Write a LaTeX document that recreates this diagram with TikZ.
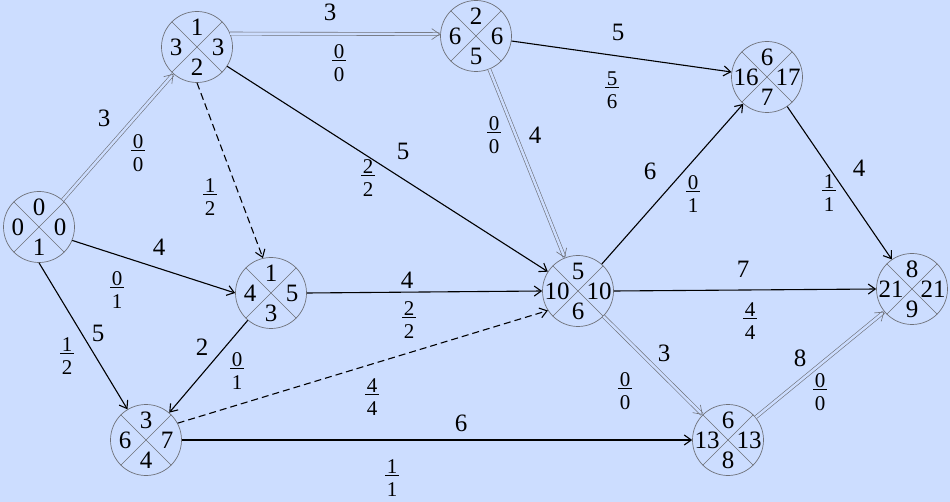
\documentclass[tikz,border=0pt]{standalone}
\usepackage{fontspec}
\setmainfont{Liberation Serif}
\newfontfamily\tms{Liberation Serif}
\usetikzlibrary{arrows.meta}
\definecolor{bg}{RGB}{204,221,255}
\definecolor{cgray}{RGB}{110,112,120}
\newcommand\fra[2]{\underline{\kern1.5pt#1\kern1.5pt}\\#2}
\newcommand\evnode[7]{%
  \node[ev] (#1) at (#2,#3) {};
  \draw[evx] (#1.45) -- (#1.225) (#1.135) -- (#1.315);
  \node[num] (#1t) at (#2,#3-20) {#4};
  \node[num] (#1l) at (#2-21,#3) {#5};
  \node[num] (#1r) at (#2+21,#3) {#6};
  \node[num] (#1b) at (#2,#3+20) {#7};
}
\begin{document}
\begin{tikzpicture}[x=1pt,y=-1pt,
  ev/.style={circle, draw=cgray, line width=0.7pt, minimum size=71pt, inner sep=0pt},
  evx/.style={draw=cgray, line width=0.6pt},
  num/.style={font=\tms\fontsize{25}{25}\selectfont, inner sep=0pt},
  wt/.style={font=\tms\fontsize{25}{25}\selectfont, inner sep=0pt},
  fr/.style={font=\tms\fontsize{21}{23}\selectfont, inner sep=0pt, align=center},
  act/.style={draw=black, line width=1.1pt, -{Straight Barb[length=7pt,width=10pt,line width=1.1pt]}},
  dum/.style={act, dash pattern=on 7pt off 4pt},
  crit/.style={draw=cgray, line width=0.6pt, double=bg, double distance=2.5pt, -{Straight Barb[length=8pt,width=11pt]}},
]
\fill[bg] (0,0) rectangle (950,502);
\useasboundingbox (0,0) rectangle (950,502);

\evnode{N1}{39}{227}{0}{0}{0}{1}
\evnode{N2}{197}{47}{1}{3}{3}{2}
\evnode{N3}{476}{36}{2}{6}{6}{5}
\evnode{N4}{767}{77}{6}{16}{17}{7}
\evnode{N5}{271}{293}{1}{4}{5}{3}
\evnode{N6}{578}{291}{5}{10}{10}{6}
\evnode{N7}{146}{440}{3}{6}{7}{4}
\evnode{N8}{728}{440}{6}{13}{13}{8}
\evnode{N9}{912}{289}{8}{21}{21}{9}

\draw[crit] (N1) -- (N2);
\draw[crit] (N2.22) -- (N3.177);
\draw[act] (N2) -- (N6);
\draw[dum] (N2.south) -- (N5.103);
\draw[act] (N3) -- (N4);
\draw[crit] (N3) -- (N6);
\draw[act] (N1.-22) -- (N5.west);
\draw[act] (N1.south) -- (N7);
\draw[act] (N5) -- (N7);
\draw[act] (N5.east) -- (N6.west);
\draw[dum] (N7.28) -- (N6.213);
\draw[act] (N7.east) -- (N8.west);
\draw[act] (N6) -- (N4);
\draw[act] (N6.east) -- (N9.west);
\draw[crit] (N6) -- (N8);
\draw[act] (N4) -- (N9);
\draw[crit] (N8) -- (N9);

\node[wt] (w12) at (104,118) {3};
\node[fr] (f12) at (138,153) {\fra{0}{0}};
\node[fr] (f25) at (210,197) {\fra{1}{2}};
\node[wt] (w15) at (159,247) {4};
\node[fr] (f15) at (117,290) {\fra{0}{1}};
\node[wt] (w17) at (98,333) {5};
\node[fr] (f17) at (67,356) {\fra{1}{2}};
\node[wt] (w57) at (202,347) {2};
\node[fr] (f57) at (237,371) {\fra{0}{1}};
\node[wt] (w23) at (330,12) {3};
\node[fr] (f23) at (339,63) {\fra{0}{0}};
\node[wt] (w26) at (403,151) {5};
\node[fr] (f26) at (368,178) {\fra{2}{2}};
\node[wt] (w34) at (618,32) {5};
\node[fr] (f34) at (612,90) {\fra{5}{6}};
\node[fr] (f36) at (494,135) {\fra{0}{0}};
\node[wt] (w36) at (535,135) {4};
\node[wt] (w56) at (407,280) {4};
\node[fr] (f56) at (409,320) {\fra{2}{2}};
\node[fr] (f76) at (372,397) {\fra{4}{4}};
\node[wt] (w78) at (461,423) {6};
\node[fr] (f78) at (392,478) {\fra{1}{1}};
\node[wt] (w64) at (650,171) {6};
\node[fr] (f64) at (693,194) {\fra{0}{1}};
\node[wt] (w49) at (859,168) {4};
\node[fr] (f49) at (829,193) {\fra{1}{1}};
\node[wt] (w69) at (743,269) {7};
\node[fr] (f69) at (750,321) {\fra{4}{4}};
\node[wt] (w68) at (664,353) {3};
\node[fr] (f68) at (625,391) {\fra{0}{0}};
\node[wt] (w89) at (800,358) {8};
\node[fr] (f89) at (820,392) {\fra{0}{0}};
\end{tikzpicture}
\end{document}
